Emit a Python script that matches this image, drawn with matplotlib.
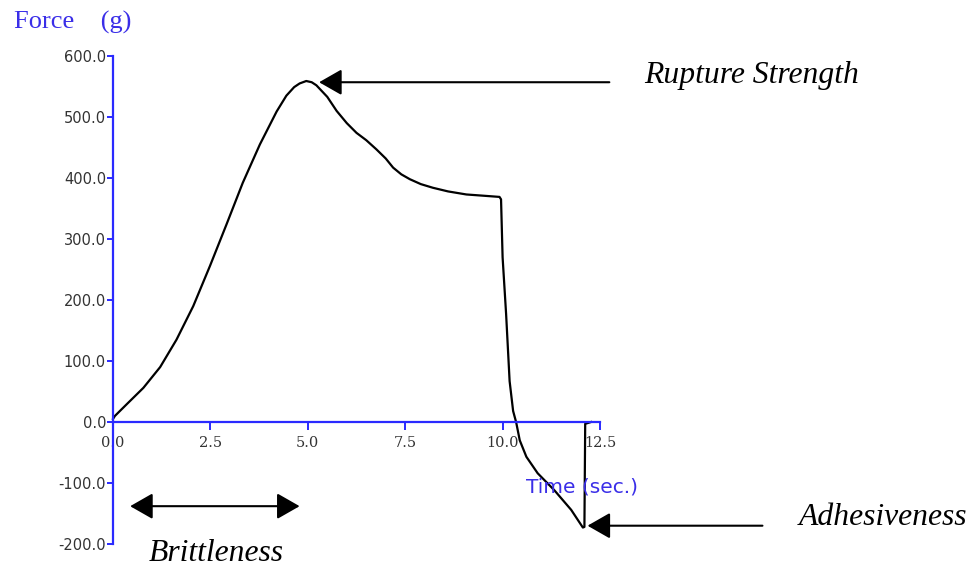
import matplotlib
matplotlib.use("Agg")
import matplotlib.pyplot as plt

# ---- data ----
time_s = [0.0, 0.05, 0.35, 0.78, 1.21, 1.63, 2.06, 2.49, 2.92, 3.33,
          3.77, 4.2, 4.45, 4.65, 4.79, 4.96, 5.1, 5.22, 5.5, 5.74, 6.0, 6.25, 6.5,
          6.76, 7.0, 7.19, 7.4, 7.62, 7.9, 8.21, 8.6, 9.07, 9.5, 9.92, 9.96,
          10.0, 10.09, 10.18, 10.27, 10.35, 10.44, 10.61, 10.9, 11.33, 11.76,
          12.06, 12.1, 12.12, 12.27]
force_g = [5, 10, 29, 56, 90, 135, 190, 256, 325, 392,
           455, 509, 535, 549, 555, 559, 557, 552, 533, 510, 490, 474, 462,
           447, 432, 417, 406, 398, 390, 384, 378, 373, 371, 369, 365,
           270, 177, 67, 18, -1, -30, -57, -84, -112, -144,
           -173, -172, -3, 0]

x_ticks = [0.0, 2.5, 5.0, 7.5, 10.0, 12.5]
y_ticks = [-200, -100, 0, 100, 200, 300, 400, 500, 600]
x_label = "Time (sec.)"
y_label = "Force    (g)"

peak_label = "Rupture Strength"
adh_label = "Adhesiveness"
brit_label = "Brittleness"

AXIS_BLUE = "#2a2aff"
TEXT_BLUE = "#3a2ee8"

fig = plt.figure(figsize=(9.74, 5.69), dpi=100)
ax = fig.add_axes([113/974, 1 - 544/569, 487/974, 488/569])
ax.set_xlim(0, 12.5)
ax.set_ylim(-200, 600)

ax.plot(time_s, force_g, color="black", lw=1.6, solid_joinstyle="round", clip_on=False)

for s in ("top", "right"):
    ax.spines[s].set_visible(False)
ax.spines["bottom"].set_position(("data", 0))
ax.spines["left"].set_color(AXIS_BLUE)
ax.spines["bottom"].set_color(AXIS_BLUE)
ax.spines["left"].set_linewidth(1.6)
ax.spines["bottom"].set_linewidth(1.6)

ax.set_xticks(x_ticks)
ax.set_xticklabels([f"{v:.1f}" for v in x_ticks], family="DejaVu Serif",
                   fontsize=10.5, color="#333333")
ax.set_yticks(y_ticks)
ax.set_yticklabels([f"{v:.1f}" for v in y_ticks], family="DejaVu Sans",
                   fontsize=10.5, color="#333333")
ax.tick_params(axis="x", direction="out", length=6, width=1.4, color=AXIS_BLUE, pad=4)
ax.tick_params(axis="y", direction="out", length=4, width=1.4, color=AXIS_BLUE, pad=1)

# axis titles
fig.text(14/974, 1 - 22/569, y_label, family="Liberation Serif", fontsize=19,
         color=TEXT_BLUE, va="center", ha="left")
ax.text(10.6, -107, x_label, family="DejaVu Sans", fontsize=14.5,
        color=TEXT_BLUE, va="center", ha="left", clip_on=False)

# annotations
ipk = force_g.index(max(force_g))
arrow_kw = dict(arrowstyle="-|>,head_length=0.7,head_width=0.4",
                mutation_scale=20, color="black", lw=1.5, shrinkA=0, shrinkB=0)
ax.annotate("", xy=(time_s[ipk] + 0.33, force_g[ipk] - 2),
            xytext=(12.74, force_g[ipk] - 2), arrowprops=arrow_kw,
            annotation_clip=False)
ax.text(13.64, 568, peak_label, family="Liberation Serif", style="italic",
        fontsize=22.8, va="center", ha="left", clip_on=False)

imin = force_g.index(min(force_g))
ax.annotate("", xy=(time_s[imin] + 0.12, force_g[imin] + 3),
            xytext=(16.67, force_g[imin] + 3), arrowprops=arrow_kw,
            annotation_clip=False)
ax.text(17.6, -156, adh_label, family="Liberation Serif", style="italic",
        fontsize=22.8, va="center", ha="left", clip_on=False)

dbl_kw = dict(arrowstyle="<|-|>,head_length=0.7,head_width=0.4",
              mutation_scale=20, color="black", lw=1.5, shrinkA=0, shrinkB=0)
ax.annotate("", xy=(0.44, -138), xytext=(4.79, -138), arrowprops=dbl_kw,
            annotation_clip=False)
ax.text(2.64, -216, brit_label, family="Liberation Serif", style="italic",
        fontsize=22.8, va="center", ha="center", clip_on=False)

fig.savefig("out.png", dpi=100, facecolor="white")
